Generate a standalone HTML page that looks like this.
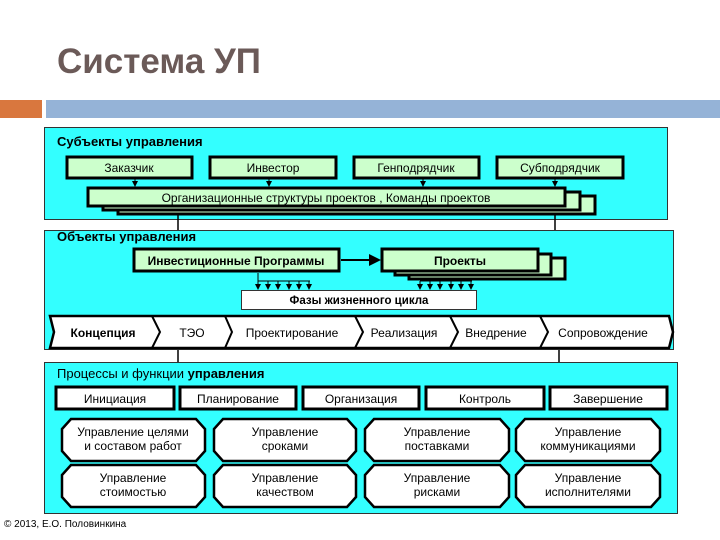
<!DOCTYPE html>
<html><head><meta charset="utf-8"><style>
body{margin:0;background:#fff}
svg{display:block}
text{font-family:"Liberation Sans",sans-serif;font-size:12px;fill:#000}
.b{font-weight:bold}
</style></head><body>
<svg width="720" height="540" viewBox="0 0 720 540" xmlns="http://www.w3.org/2000/svg">
<defs><marker id="a" markerWidth="6" markerHeight="6" refX="5" refY="3" orient="auto"><path d="M0,0L6,3L0,6z" fill="#000"/></marker></defs>
<text x="57" y="73" style="font-size:35px;font-weight:bold;fill:#6b5a58">Система УП</text>
<rect x="0" y="100" width="42" height="18" fill="#d9773e"/>
<rect x="46" y="100" width="674" height="18" fill="#95b3d7"/>
<!-- panel1 -->
<rect x="44.5" y="127.5" width="623" height="92" fill="#3ff" stroke="#333"/>
<text x="57" y="146" class="b" style="font-size:13px">Субъекты управления</text>
<g stroke="#000" stroke-width="3" fill="#ccffcc">
<rect x="67" y="157" width="125" height="21"/><rect x="210" y="157" width="126" height="21"/>
<rect x="354" y="157" width="125" height="21"/><rect x="497" y="157" width="126" height="21"/>
</g>
<text x="129" y="172" text-anchor="middle">Заказчик</text><text x="273" y="172" text-anchor="middle">Инвестор</text>
<text x="416" y="172" text-anchor="middle">Генподрядчик</text><text x="560" y="172" text-anchor="middle">Субподрядчик</text>
<g stroke="#000" stroke-width="1">
<line x1="135" y1="179" x2="135" y2="186" marker-end="url(#a)"/><line x1="269" y1="179" x2="269" y2="186" marker-end="url(#a)"/>
<line x1="423" y1="179" x2="423" y2="186" marker-end="url(#a)"/><line x1="555" y1="179" x2="555" y2="186" marker-end="url(#a)"/>
</g>
<g stroke="#000" stroke-width="3" fill="#ccffcc">
<rect x="118" y="196" width="477" height="18"/><rect x="103" y="192" width="477" height="18"/><rect x="88" y="188" width="477" height="18"/>
</g>
<text x="326" y="202" text-anchor="middle">Организационные структуры проектов , Команды проектов</text>
<!-- connectors -->
<g stroke="#000" stroke-width="1.5">
<line x1="178" y1="213" x2="178" y2="236"/><line x1="555" y1="213" x2="555" y2="236"/>
<line x1="178" y1="348" x2="178" y2="368"/><line x1="559" y1="348" x2="559" y2="368"/>
</g>
<!-- panel2 -->
<rect x="44.5" y="230.5" width="629" height="119" fill="#3ff" stroke="#333"/>
<text x="57" y="241" class="b" style="font-size:13px">Объекты управления</text>
<g stroke="#000" stroke-width="3" fill="#ccffcc">
<rect x="134" y="249" width="205" height="22"/>
<rect x="409" y="258" width="156" height="21"/><rect x="395" y="254" width="156" height="21"/><rect x="382" y="249" width="156" height="22"/>
</g>
<text x="236" y="265" class="b" text-anchor="middle">Инвестиционные Программы</text>
<text x="460" y="265" class="b" text-anchor="middle">Проекты</text>
<line x1="341" y1="260" x2="379" y2="260" stroke="#000" stroke-width="2" marker-end="url(#a)"/>
<g stroke="#000" stroke-width="1">
<line x1="258" y1="273" x2="258" y2="289"/><line x1="258" y1="281" x2="310" y2="281"/>
<line x1="420" y1="281" x2="472" y2="281"/>
<g marker-end="url(#a)">
<line x1="258" y1="281" x2="258" y2="289"/><line x1="268" y1="281" x2="268" y2="289"/><line x1="278" y1="281" x2="278" y2="289"/><line x1="289" y1="281" x2="289" y2="289"/><line x1="299" y1="281" x2="299" y2="289"/><line x1="309" y1="281" x2="309" y2="289"/>
<line x1="420" y1="281" x2="420" y2="289"/><line x1="430" y1="281" x2="430" y2="289"/><line x1="440" y1="281" x2="440" y2="289"/><line x1="451" y1="281" x2="451" y2="289"/><line x1="461" y1="281" x2="461" y2="289"/><line x1="471" y1="281" x2="471" y2="289"/>
</g></g>
<rect x="241.5" y="290.5" width="235" height="19" fill="#fff" stroke="#333"/>
<text x="359" y="304" class="b" text-anchor="middle" style="font-size:11.5px">Фазы жизненного цикла</text>
<g fill="#fff" stroke="#000" stroke-width="2.5">
<path d="M50,316H669L673,332L669,348H50L54,332Z"/>
</g>
<g fill="none" stroke="#000" stroke-width="2">
<path d="M152,316L160,332L152,348"/><path d="M225,316L232,332L225,348"/><path d="M355,316L363,332L355,348"/>
<path d="M450,316L458,332L450,348"/><path d="M540,316L548,332L540,348"/>
</g>
<g class="b"><text x="103" y="337" text-anchor="middle">Концепция</text><text x="192" y="337" text-anchor="middle" style="font-weight:normal">ТЭО</text>
<text x="292" y="337" text-anchor="middle" style="font-weight:normal">Проектирование</text><text x="404" y="337" text-anchor="middle" style="font-weight:normal">Реализация</text>
<text x="496" y="337" text-anchor="middle" style="font-weight:normal">Внедрение</text><text x="603" y="337" text-anchor="middle" style="font-weight:normal">Сопровождение</text></g>
<!-- panel3 -->
<rect x="44.5" y="362.5" width="633" height="151" fill="#3ff" stroke="#333"/>
<text x="57" y="378" style="font-size:13px">Процессы и функции <tspan class="b">управления</tspan></text>
<g stroke="#000" stroke-width="3" fill="#fff">
<rect x="56" y="387" width="118" height="22"/><rect x="180" y="387" width="116" height="22"/><rect x="303" y="387" width="116" height="22"/>
<rect x="426" y="387" width="118" height="22"/><rect x="550" y="387" width="117" height="22"/>
</g>
<g text-anchor="middle"><text x="115" y="403">Инициация</text><text x="238" y="403">Планирование</text><text x="361" y="403">Организация</text><text x="485" y="403">Контроль</text><text x="608" y="403">Завершение</text></g>
<g stroke="#000" stroke-width="2.5" fill="#fff">
<path d="M71,419H196L205,429V451L196,461H71L62,451V429Z"/>
<path d="M223,419H347L356,429V451L347,461H223L214,451V429Z"/>
<path d="M374,419H500L509,429V451L500,461H374L365,451V429Z"/>
<path d="M525,419H651L660,429V451L651,461H525L516,451V429Z"/>
<path d="M71,465H196L205,475V497L196,507H71L62,497V475Z"/>
<path d="M223,465H347L356,475V497L347,507H223L214,497V475Z"/>
<path d="M374,465H500L509,475V497L500,507H374L365,497V475Z"/>
<path d="M525,465H651L660,475V497L651,507H525L516,497V475Z"/>
</g>
<g text-anchor="middle">
<text x="133" y="436">Управление целями</text><text x="133" y="450">и составом работ</text>
<text x="285" y="436">Управление</text><text x="285" y="450">сроками</text>
<text x="437" y="436">Управление</text><text x="437" y="450">поставками</text>
<text x="588" y="436">Управление</text><text x="588" y="450">коммуникациями</text>
<text x="133" y="482">Управление</text><text x="133" y="496">стоимостью</text>
<text x="285" y="482">Управление</text><text x="285" y="496">качеством</text>
<text x="437" y="482">Управление</text><text x="437" y="496">рисками</text>
<text x="588" y="482">Управление</text><text x="588" y="496">исполнителями</text>
</g>
<text x="4" y="527" style="font-size:10px">© 2013, Е.О. Половинкина</text>
</svg>
</body></html>
